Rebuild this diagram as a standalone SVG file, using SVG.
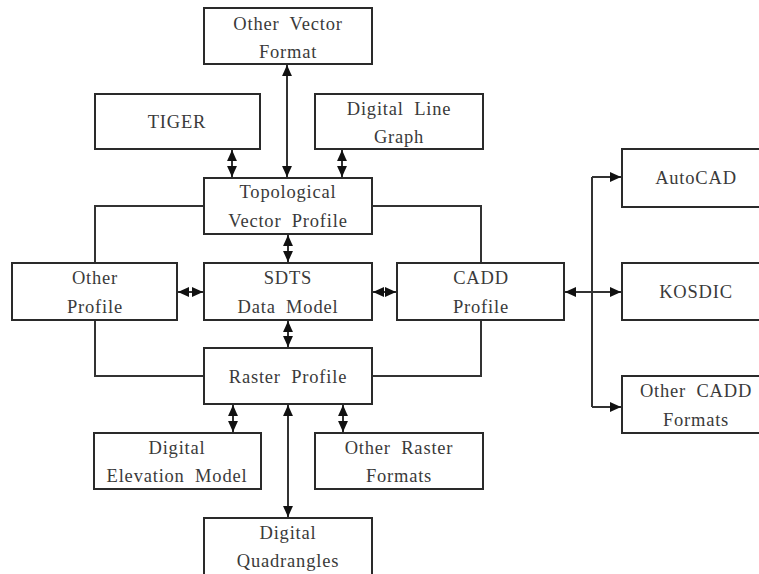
<svg xmlns="http://www.w3.org/2000/svg" width="759" height="574" viewBox="0 0 759 574">
  <style>
    .box { fill: #ffffff; stroke: #2a2a2a; stroke-width: 2; }
    .lbl { font-family: "Liberation Serif", "Times New Roman", serif; font-size: 18.5px; fill: #3a3a3a; text-anchor: middle; letter-spacing: 0.8px; word-spacing: 5px; }
    .ln { fill: none; stroke: #333333; stroke-width: 2; }
    .ar { fill: none; stroke: #333333; stroke-width: 2; marker-start: url(#ah); marker-end: url(#ah); }
    .ae { fill: none; stroke: #333333; stroke-width: 2; marker-end: url(#ah); }
  </style>
  <defs>
    <marker id="ah" viewBox="0 0 10 10" refX="10" refY="5" markerWidth="11" markerHeight="11" markerUnits="userSpaceOnUse" orient="auto-start-reverse">
      <path d="M0,0.5 L10,5 L0,9.5 Z" fill="#111111"/>
    </marker>
  </defs>
  <rect width="759" height="574" fill="#ffffff"/>

  <!-- connectors -->
  <g id="connectors">
    <path class="ln" d="M204,206 H95 V263"/>
    <path class="ln" d="M372,206 H481 V263"/>
    <path class="ln" d="M95,320 V376 H204"/>
    <path class="ln" d="M481,320 V376 H372"/>
    <path class="ar" d="M287,65 V177"/>
    <path class="ar" d="M232,150 V177"/>
    <path class="ar" d="M342,150 V177"/>
    <path class="ar" d="M288,235 V262"/>
    <path class="ar" d="M288,321 V347"/>
    <path class="ar" d="M233,405 V432"/>
    <path class="ar" d="M343,405 V432"/>
    <path class="ar" d="M288,405 V517"/>
    <path class="ar" d="M178,292 H203"/>
    <path class="ar" d="M373,292 H396"/>
    <path class="ln" d="M565,292 H592"/>
    <path class="ae" d="M592,292 H565"/>
    <path class="ln" d="M592,177 V407"/>
    <path class="ae" d="M592,177 H621"/>
    <path class="ae" d="M592,292 H621"/>
    <path class="ae" d="M592,407 H621"/>
  </g>

  <g id="other-vector-format">
    <rect class="box" x="204" y="8" width="168" height="56"/>
    <text class="lbl" x="288" y="30">Other Vector</text>
    <text class="lbl" x="288" y="58">Format</text>
  </g>
  <g id="tiger">
    <rect class="box" x="95" y="94" width="165" height="55"/>
    <text class="lbl" x="177" y="128">TIGER</text>
  </g>
  <g id="digital-line-graph">
    <rect class="box" x="315" y="94" width="168" height="55"/>
    <text class="lbl" x="399" y="115">Digital Line</text>
    <text class="lbl" x="399" y="143">Graph</text>
  </g>
  <g id="topological-vector-profile">
    <rect class="box" x="204" y="178" width="168" height="56"/>
    <text class="lbl" x="288" y="198">Topological</text>
    <text class="lbl" x="288" y="227">Vector Profile</text>
  </g>
  <g id="other-profile">
    <rect class="box" x="12" y="263" width="165" height="57"/>
    <text class="lbl" x="95" y="284">Other</text>
    <text class="lbl" x="95" y="313">Profile</text>
  </g>
  <g id="sdts-data-model">
    <rect class="box" x="204" y="263" width="168" height="57"/>
    <text class="lbl" x="288" y="284">SDTS</text>
    <text class="lbl" x="288" y="313">Data Model</text>
  </g>
  <g id="cadd-profile">
    <rect class="box" x="397" y="263" width="167" height="57"/>
    <text class="lbl" x="481" y="284">CADD</text>
    <text class="lbl" x="481" y="313">Profile</text>
  </g>
  <g id="raster-profile">
    <rect class="box" x="204" y="348" width="168" height="56"/>
    <text class="lbl" x="288" y="383">Raster Profile</text>
  </g>
  <g id="autocad">
    <rect class="box" x="622" y="149" width="150" height="58"/>
    <text class="lbl" x="696" y="184">AutoCAD</text>
  </g>
  <g id="kosdic">
    <rect class="box" x="622" y="263" width="150" height="57"/>
    <text class="lbl" x="696" y="298">KOSDIC</text>
  </g>
  <g id="other-cadd-formats">
    <rect class="box" x="622" y="376" width="150" height="57"/>
    <text class="lbl" x="696" y="397">Other CADD</text>
    <text class="lbl" x="696" y="426">Formats</text>
  </g>
  <g id="digital-elevation-model">
    <rect class="box" x="94" y="433" width="167" height="56"/>
    <text class="lbl" x="177" y="454">Digital</text>
    <text class="lbl" x="177" y="482">Elevation Model</text>
  </g>
  <g id="other-raster-formats">
    <rect class="box" x="315" y="433" width="168" height="56"/>
    <text class="lbl" x="399" y="454">Other Raster</text>
    <text class="lbl" x="399" y="482">Formats</text>
  </g>
  <g id="digital-quadrangles">
    <rect class="box" x="204" y="518" width="168" height="60"/>
    <text class="lbl" x="288" y="539">Digital</text>
    <text class="lbl" x="288" y="567">Quadrangles</text>
  </g>
</svg>
